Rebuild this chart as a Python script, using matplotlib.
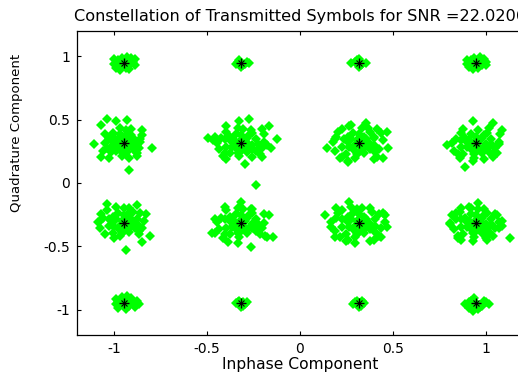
import numpy as np
import matplotlib.pyplot as plt

# 16-QAM ideal levels (normalised by sqrt(10))
levels = [-3 / np.sqrt(10), -1 / np.sqrt(10), 1 / np.sqrt(10), 3 / np.sqrt(10)]
snr_db = 22.0206

# received noise offsets around each symbol, in hundredths (I, Q)
# one list per column, rows from Q = +3 down to Q = -3
noise_q3 = [
    [(0,0),(-3,2),(3,-2),(-5,-1),(5,1),(-1,4),(1,-4),(-4,-4),(4,4),(-2,-6),(2,5),(6,-2),(-5,3),(3,-5),
     (-1,1),(2,2),(-2,-2),(6,3)],
    [(0,0),(-2,1),(2,-1),(-3,-1),(3,1),(-1,2),(1,-2),(0,-3),(4,0),(-1,-1)],
    [(0,0),(-2,1),(2,-1),(-4,0),(4,0),(-1,2),(1,-2),(0,3),(0,-3),(1,1)],
    [(0,0),(-3,2),(3,-2),(-5,-1),(5,1),(-1,4),(1,-4),(-4,-3),(4,3),(-2,-5),(2,5),(5,-2),
     (-1,-1),(2,1),(-5,2)],
]
noise_q1 = [
    [(0,0),(-3,3),(3,-3),(-6,-2),(6,2),(-2,7),(2,-7),(-8,4),(8,-4),(-4,-6),(4,6),(-9,-4),(7,-8),
     (-6,8),(1,10),(-1,-10),(-10,0),(9,1),(5,-1),(-5,1),(-3,-3),(3,3),(-7,-7),(6,-6),(-2,12),
     (4,11),(-11,-6),(10,6),(0,-5),(0,5),
     (-1,2),(2,1),(-2,-1),(1,-2),(-5,4),(5,-4),(-4,-2),(3,7),(-1,-7),(-7,2),(7,-2),(2,-4),
     (-9,19),(-4,17),(2,18),(-12,14),(-10,7),(-16,-1),(10,10),(15,-4),(7,-10),(3,-21),
     (-12,-11),(-8,-12),(3,-12),(9,3)],
    [(0,0),(-4,2),(4,-2),(-8,-3),(8,3),(-3,7),(3,-7),(-11,4),(11,-4),(-6,-8),(6,8),(-12,-5),
     (10,-9),(-8,9),(1,11),(-1,-10),(-13,0),(12,1),(6,-2),(-6,2),(-3,-4),(3,4),(-9,-8),(8,-6),
     (-2,12),(5,10),(-10,-10),(12,7),(0,-6),(0,6),(-14,5),(14,-2),
     (-1,1),(2,2),(-2,-2),(1,-3),(-6,5),(6,-5),(-5,-3),(4,6),(-2,-8),(-9,3),(9,-1),(2,-4),
     (4,19),(-1,17),(-8,13),(-18,4),(15,13),(11,11),(19,3),(16,-4),(11,-11),(6,-11),(2,-17),
     (-8,-13),(8,-33),(-15,2)],
    [(0,0),(-4,3),(5,-2),(-9,-3),(8,4),(-3,8),(3,-8),(-12,5),(11,-5),(-7,-9),(6,9),(-13,-6),
     (10,-11),(-9,11),(2,12),(-2,-12),(-14,1),(13,2),(6,-1),(-6,1),(-3,-5),(3,5),(-10,-12),
     (9,-7),(-4,14),(5,12),(-11,9),(12,8),(0,-7),(0,7),(-6,-14),(8,-13),
     (-1,2),(2,1),(-2,-2),(1,-3),(-6,5),(6,-5),(-5,-3),(4,3),(-1,-9),(-8,3),(8,-2),(3,-4),
     (4,16),(10,11),(15,9),(16,-4),(13,-12),(-17,-4),(-6,-15),(-13,3),(-5,13),(8,5),(-9,-11)],
    [(0,0),(-4,2),(4,-3),(-8,-3),(8,3),(-3,7),(3,-8),(-11,3),(10,-4),(-7,-9),(6,8),(-12,-6),
     (9,-11),(-8,8),(1,10),(-1,-12),(-13,0),(12,1),(5,-1),(-5,1),(-3,-5),(3,4),(-9,-12),(7,-7),
     (-2,-14),(4,-13),(-10,-9),(11,-8),(0,-6),(0,5),
     (-1,1),(2,2),(-2,-2),(1,-3),(-6,4),(6,-5),(-5,-3),(4,6),(-1,-9),(-8,2),(8,-1),(2,-5),
     (-2,17),(9,16),(7,12),(14,10),(13,7),(-7,11),(-16,-2),(-6,-19),(10,-7),(12,-1)],
]
noise_qm1 = [
    [(0,0),(-4,3),(4,-2),(-8,-2),(7,3),(-3,8),(3,-7),(-11,4),(10,-4),(-6,-8),(5,9),(-13,-4),
     (8,-9),(-9,10),(0,12),(-2,-10),(-14,1),(11,2),(5,-1),(-6,1),(-3,-4),(2,5),(-10,-9),(8,-6),
     (-4,13),(3,12),(-12,7),(9,8),(0,-6),(0,6),
     (-1,2),(2,1),(-2,-2),(1,-3),(-6,5),(6,-4),(-5,-3),(4,3),(-1,-8),(-8,3),(8,-2),(3,8),
     (-9,15),(-13,2),(12,7),(14,-10),(10,-15),(1,-21),(-5,-12),(7,14)],
    [(0,0),(-4,2),(5,-3),(-8,-4),(8,3),(-3,7),(3,-8),(-11,4),(11,-4),(-6,-9),(6,8),(-12,-5),
     (10,-9),(-8,10),(1,11),(-1,-11),(-13,1),(12,0),(6,-1),(-6,2),(-3,-5),(3,4),(-9,-9),(8,-6),
     (-2,12),(5,11),(-10,-12),(12,7),(0,-6),(0,6),(-14,-8),(13,-10),
     (-1,1),(2,2),(-2,-2),(1,-3),(-6,5),(6,-4),(-5,-3),(4,6),(-2,-8),(-9,3),(9,-1),(3,-5),
     (-9,13),(0,17),(-16,-8),(-14,3),(-7,-15),(-2,-16),(5,-19),(14,-11),(17,-11),(15,6),(9,-3),(6,11)],
    [(0,0),(-4,3),(4,-2),(-9,-3),(9,3),(-3,8),(3,-8),(-12,4),(12,-4),(-7,-9),(7,9),(-13,-6),
     (11,-10),(-9,10),(2,12),(-2,-11),(-15,1),(14,1),(6,-1),(-6,1),(-3,-5),(3,5),(-10,-11),
     (9,-7),(-4,13),(6,12),(-11,8),(13,8),(0,-7),(0,7),(-6,-13),(8,-13),
     (-1,2),(2,1),(-2,-2),(1,-3),(-6,5),(6,-5),(-5,-3),(4,3),(-1,-9),(-9,3),(9,-2),(3,-5),
     (-5,17),(-12,12),(-18,6),(11,7),(14,6),(15,-3),(12,-11),(6,-14),(-2,-16),(-7,-14),
     (-13,-11),(-15,-3),(-1,11)],
    [(0,0),(-4,2),(4,-3),(-8,-3),(8,3),(-3,7),(3,-8),(-11,3),(10,-4),(-7,-9),(6,8),(-12,-5),
     (9,-10),(-9,9),(1,11),(-1,-11),(-14,0),(12,1),(5,-1),(-5,1),(-3,-5),(3,4),(-10,-10),(7,-7),
     (-3,12),(4,11),(-11,8),(11,6),(0,-6),(0,6),(-8,-13),(6,-13),
     (-1,1),(2,2),(-2,-2),(1,-3),(-6,4),(6,-5),(-5,-3),(4,6),(-2,-8),(-8,3),(8,-1),(2,-5),
     (1,16),(-8,12),(-4,13),(-14,-1),(-13,6),(10,7),(14,2),(14,-2),(12,-4),(18,-12),(-10,-12),
     (-2,-14),(5,-12)],
]
noise_qm3 = [
    [(0,0),(-3,2),(3,-2),(-4,-1),(5,1),(-1,5),(1,-5),(-3,-4),(4,4),(7,2),(8,-1),(2,6),(6,-3),
     (-1,-1),(2,1),(-4,3)],
    [(0,0),(-2,1),(2,-1),(-3,0),(3,1),(-1,2),(1,-2),(0,-3),(1,1)],
    [(0,0),(-2,1),(2,-1),(-3,-1),(2,2),(-1,2),(1,-2),(0,-3),(3,0)],
    [(0,0),(-3,2),(3,-2),(-6,-1),(5,1),(-1,4),(1,-5),(-4,-4),(4,2),(-2,-6),(7,-1),(2,-3),
     (-1,-1),(-4,1)],
]
rows = [(levels[3], noise_q3), (levels[2], noise_q1), (levels[1], noise_qm1), (levels[0], noise_qm3)]

# build received samples
rx_i, rx_q = [], []
for q0, row in rows:
    for i0, pts in zip(levels, row):
        for dx, dy in pts:
            rx_i.append(i0 + dx / 100.0)
            rx_q.append(q0 + dy / 100.0)

ideal_i = [i for q in levels for i in levels]
ideal_q = [q for q in levels for i in levels]

fig = plt.figure(figsize=(5.18, 3.72), dpi=100)
ax = fig.add_axes([77 / 518, 37 / 372, 446 / 518, 304 / 372])

ax.plot(rx_i, rx_q, 'D', color=(0, 1, 0), markersize=5, markeredgewidth=0, linestyle='none')
ax.plot(ideal_i, ideal_q, '+', color='k', markersize=7, markeredgewidth=1.0, linestyle='none')
ax.plot(ideal_i, ideal_q, 'x', color='k', markersize=4, markeredgewidth=0.8, linestyle='none')

ax.set_xlim(-1.2, 1.2)
ax.set_ylim(-1.2, 1.2)
ax.set_xticks([-1, -0.5, 0, 0.5, 1])
ax.set_xticklabels(['-1', '-0.5', '0', '0.5', '1'])
ax.set_yticks([-1, -0.5, 0, 0.5, 1])
ax.set_yticklabels(['-1', '-0.5', '0', '0.5', '1'])
ax.tick_params(direction='in', length=3, width=0.8, top=True, right=False,
               labelsize=10, pad=5)
for sp in ax.spines.values():
    sp.set_linewidth(0.9)
ax.spines['right'].set_visible(False)

ax.set_title('Constellation of Transmitted Symbols for SNR =%.4f' % snr_db,
             family='DejaVu Sans', fontsize=11.6, pad=7)
ax.set_xlabel('Inphase Component', family='DejaVu Sans', fontsize=11.2, labelpad=1)
ax.set_ylabel('Quadrature Component', family='Liberation Sans Narrow', fontsize=9.5)
ax.yaxis.set_label_coords(-0.121, 0.664)

fig.savefig('out.png', dpi=100)
